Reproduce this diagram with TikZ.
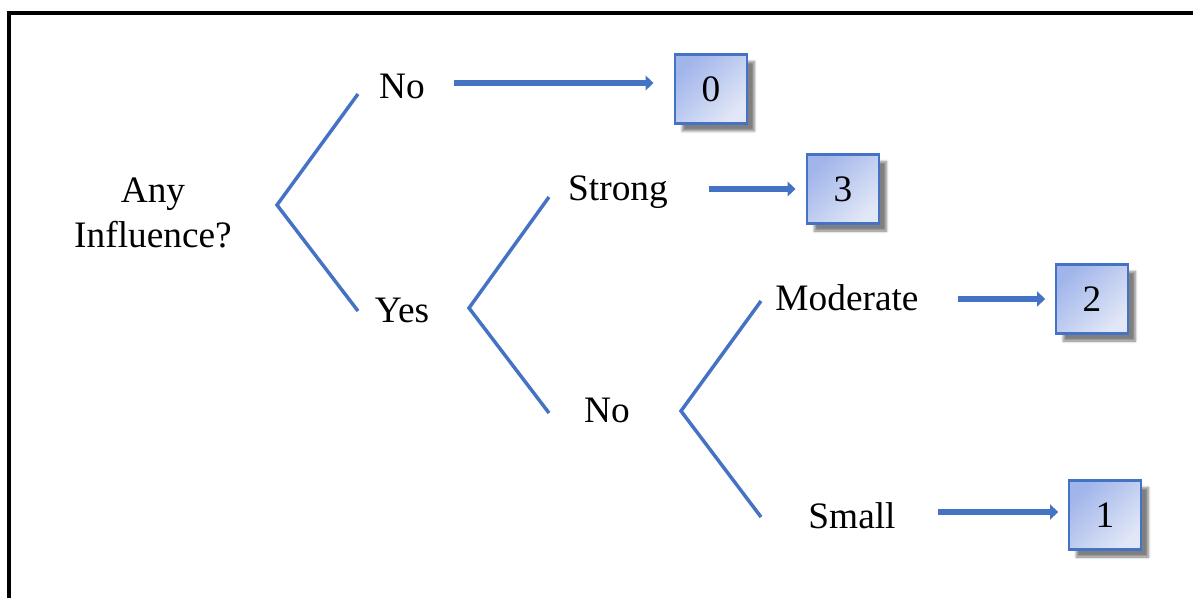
\documentclass[tikz,border=0pt]{standalone}
\usepackage{fontspec}
\setmainfont{Liberation Serif}
\usetikzlibrary{arrows.meta,shadows.blur}

\definecolor{lineblue}{RGB}{68,114,196}
\definecolor{boxdark}{RGB}{160,181,234}
\definecolor{boxlight}{RGB}{226,231,247}

\tikzset{
  branch/.style={draw=lineblue, line width=2.6pt, line join=miter},
  flow/.style={draw=lineblue, line width=5pt, -{Triangle[length=6pt,width=11pt]}},
  scorebox/.style={draw=lineblue, line width=2.2pt, minimum width=54pt, minimum height=52pt,
    top color=boxdark, bottom color=boxlight, shading angle=45,
    blur shadow={shadow xshift=5.5pt, shadow yshift=-5.5pt, shadow opacity=50, shadow blur steps=6},
    font=\fontsize{28}{33}\selectfont},
  answer/.style={anchor=base, inner sep=0pt, font=\fontsize{28}{33}\selectfont}
}

\begin{document}
\begin{tikzpicture}[x=0.75pt,y=0.75pt,yscale=-1,xscale=1]
\useasboundingbox (0,0) rectangle (1193,598);

%Frame
\draw [line width=2.4pt] (9,610) -- (9,13) -- (1205,13) ;

% Text Node
\draw (153,213) node (any) [align=center, inner sep=0pt, font=\fontsize{28}{33.75}\selectfont] {Any\\Influence?};
% Text Node
\draw (402,99) node (no1) [answer] {No};
% Text Node
\draw (402,323) node (yes) [answer] {Yes};
% Text Node
\draw (618,201) node (strong) [answer] {Strong};
% Text Node
\draw (607,423) node (no2) [answer] {No};
% Text Node
\draw (847,311) node (moderate) [answer] {Moderate};
% Text Node
\draw (852,528) node (small) [answer] {Small};

%Score boxes
\draw (711,89) node (box0) [scorebox] {0};
\draw (843,189) node (box3) [scorebox] {3};
\draw (1092,299) node (box2) [scorebox] {2};
\draw (1105,515) node (box1) [scorebox] {1};

%Forks
\coordinate (fork1) at (277,205);
\coordinate (fork1up) at (358,94);
\coordinate (fork1dn) at (358,311);
\coordinate (fork2) at (469,308);
\coordinate (fork2up) at (549,197);
\coordinate (fork2dn) at (549,413);
\coordinate (fork3) at (681,411);
\coordinate (fork3up) at (761,301);
\coordinate (fork3dn) at (761,517);

%Straight Lines
\draw [branch] (fork1up) -- (fork1) -- (fork1dn) ;
\draw [branch] (fork2up) -- (fork2) -- (fork2dn) ;
\draw [branch] (fork3up) -- (fork3) -- (fork3dn) ;

%Arrows
\coordinate (start0) at (454,83);
\coordinate (start3) at (709,189);
\coordinate (start2) at (958,299);
\coordinate (start1) at (938,512);
\draw [flow, shorten >=15pt] (start0) -- (start0 -| box0.west) ;
\draw [flow, shorten >=7.5pt] (start3) -- (start3 -| box3.west) ;
\draw [flow, shorten >=7pt] (start2) -- (start2 -| box2.west) ;
\draw [flow, shorten >=7pt] (start1) -- (start1 -| box1.west) ;
\end{tikzpicture}
\end{document}
